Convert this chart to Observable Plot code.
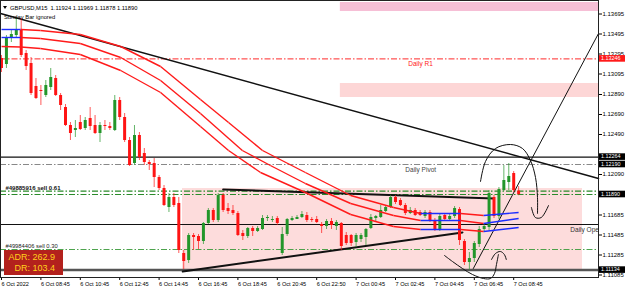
<!DOCTYPE html>
<html><head><meta charset="utf-8">
<script src="https://cdn.jsdelivr.net/npm/d3@7"></script>
<script src="https://cdn.jsdelivr.net/npm/@observablehq/plot@0.6"></script>
<style>body{margin:0;background:#fff;} svg{display:block}</style>
</head><body><div id="chart"></div>
<script>
// ---- candles (GBPUSD M15) ----
const barOpen  = [1.13250,1.13190,1.13460,1.13480,1.13530,1.13300,1.13200,1.12970,1.12930,1.12880,1.12960,1.13050,1.12880,1.12760,1.12580,1.12530,1.12610,1.12550,1.12650,1.12580,1.12500,1.12580,1.12570,1.12530,1.12830,1.12660,1.12430,1.12200,1.12480,1.12300,1.12210,1.12200,1.12060,1.11950,1.11760,1.11860,1.11800,1.11300,1.11230,1.11480,1.11470,1.11420,1.11600,1.11730,1.11630,1.11880,1.11750,1.11730,1.11700,1.11500,1.11470,1.11550,1.11520,1.11540,1.11650,1.11640,1.11650,1.11300,1.11490,1.11630,1.11640,1.11660,1.11680,1.11640,1.11640,1.11590,1.11570,1.11620,1.11570,1.11600,1.11480,1.11480,1.11410,1.11440,1.11460,1.11550,1.11650,1.11660,1.11720,1.11760,1.11860,1.11830,1.11780,1.11700,1.11730,1.11710,1.11670,1.11710,1.11630,1.11540,1.11680,1.11640,1.11670,1.11740,1.11420,1.11210,1.11250,1.11390,1.11540,1.11560,1.11860,1.11670,1.11930,1.12010,1.12100,1.11924];
const barHigh  = [1.13280,1.13480,1.13530,1.13650,1.13650,1.13330,1.13260,1.13050,1.12980,1.13030,1.13150,1.13080,1.12900,1.12790,1.12610,1.12630,1.12680,1.12660,1.12760,1.12680,1.12610,1.12630,1.12610,1.12880,1.12860,1.12700,1.12460,1.12580,1.12510,1.12350,1.12230,1.12250,1.12080,1.11980,1.11900,1.11900,1.11860,1.11330,1.11500,1.11500,1.11490,1.11610,1.11750,1.11750,1.11900,1.11900,1.11800,1.11780,1.11720,1.11530,1.11560,1.11570,1.11570,1.11680,1.11680,1.11670,1.11670,1.11560,1.11650,1.11670,1.11680,1.11720,1.11710,1.11660,1.11670,1.11610,1.11640,1.11650,1.11630,1.11610,1.11510,1.11490,1.11500,1.11500,1.11550,1.11690,1.11680,1.11780,1.11780,1.11880,1.11880,1.11850,1.11800,1.11760,1.11750,1.11730,1.11730,1.11730,1.11650,1.11690,1.11700,1.11690,1.11770,1.11760,1.11440,1.11310,1.11420,1.11570,1.11590,1.11930,1.11880,1.11960,1.12180,1.12200,1.12120,1.11969];
const barLow   = [1.13110,1.13150,1.13410,1.13460,1.13260,1.13130,1.12880,1.12840,1.12780,1.12860,1.12930,1.12870,1.12730,1.12570,1.12430,1.12460,1.12530,1.12530,1.12530,1.12490,1.12410,1.12530,1.12530,1.12520,1.12630,1.12410,1.12170,1.12180,1.12230,1.12180,1.12130,1.11960,1.11930,1.11770,1.11710,1.11760,1.11300,1.11140,1.11200,1.11330,1.11340,1.11390,1.11590,1.11610,1.11610,1.11710,1.11690,1.11680,1.11470,1.11430,1.11450,1.11470,1.11510,1.11530,1.11620,1.11610,1.11580,1.11280,1.11470,1.11620,1.11640,1.11650,1.11610,1.11610,1.11600,1.11500,1.11540,1.11540,1.11530,1.11330,1.11380,1.11370,1.11360,1.11410,1.11380,1.11540,1.11610,1.11650,1.11710,1.11750,1.11790,1.11770,1.11680,1.11690,1.11670,1.11670,1.11650,1.11610,1.11520,1.11520,1.11620,1.11620,1.11650,1.11380,1.11180,1.11134,1.11210,1.11360,1.11510,1.11530,1.11650,1.11640,1.11920,1.11930,1.11910,1.11878];
const barClose = [1.13150,1.13450,1.13490,1.13540,1.13280,1.13170,1.12900,1.12850,1.12920,1.12980,1.13060,1.12880,1.12780,1.12580,1.12500,1.12550,1.12540,1.12630,1.12570,1.12500,1.12580,1.12570,1.12550,1.12830,1.12660,1.12430,1.12180,1.12480,1.12260,1.12210,1.12190,1.12060,1.11950,1.11780,1.11860,1.11780,1.11330,1.11220,1.11480,1.11460,1.11420,1.11600,1.11730,1.11630,1.11880,1.11730,1.11720,1.11700,1.11480,1.11470,1.11550,1.11520,1.11550,1.11650,1.11660,1.11640,1.11600,1.11490,1.11640,1.11650,1.11660,1.11690,1.11630,1.11630,1.11610,1.11570,1.11620,1.11580,1.11610,1.11370,1.11400,1.11400,1.11480,1.11480,1.11540,1.11660,1.11670,1.11730,1.11760,1.11860,1.11810,1.11780,1.11700,1.11730,1.11680,1.11680,1.11710,1.11630,1.11540,1.11670,1.11640,1.11670,1.11750,1.11430,1.11210,1.11250,1.11400,1.11540,1.11570,1.11900,1.11670,1.11940,1.12030,1.12070,1.11930,1.11890];

// ---- axes (visible price labels; 1.12290 and 1.11890 sit under the level boxes) ----
const xTickBars = [0,8,16,24,32,40,48,56,64,72,80,88,96,104];
const xTickLabels = ["6 Oct 2022","6 Oct 08:45","6 Oct 10:45","6 Oct 12:45","6 Oct 14:45","6 Oct 16:45","6 Oct 18:45","6 Oct 20:45","6 Oct 22:50","7 Oct 00:45","7 Oct 02:45","7 Oct 04:45","7 Oct 06:45","7 Oct 08:45"];
const yTickLabels = ["1.13695","1.13495","1.13295","1.13095","1.12890","1.12690","1.12490","1.12090","1.11685","1.11485","1.11285","1.11085"];

// ---- moving-average envelope ----
const maBars   = [0,3.9,7.9,16,24.2,32.3,40.4,46.1,53,61.7,70.9,79.6,85.1,93.2,97.9,105];
const maMidBars= [0,3.9,7.9,16,24.2,32.3,40.4,48.9,54.6,61.7,70.9,79.6,85.1,93.2,97.9,105];
const maBotBars= [0,3.9,7.9,16,24.2,32.3,40.4,46.1,52.6,61.7,70.9,79.6,85.1,93.2,97.9,105];
const maUpper  = [1.13540,1.13540,1.13530,1.13490,1.13370,1.13170,1.12840,1.12610,1.12330,1.12110,1.11880,1.11760,1.11700,1.11700,1.11680,1.11710];
const maMiddle = [1.13460,1.13460,1.13450,1.13400,1.13260,1.13030,1.12700,1.12330,1.12180,1.12000,1.11800,1.11680,1.11630,1.11630,1.11600,1.11650];
const maLower  = [1.13370,1.13365,1.13350,1.13290,1.13130,1.12910,1.12570,1.12330,1.12110,1.11910,1.11690,1.11570,1.11540,1.11540,1.11520,1.11560];

// ---- levels ----
const dailyR1 = 1.13246;
const levelBlack = 1.12264;
const dailyPivot = 1.12190;
const orderSell061 = [1.11923, 1.11890];
const dailyOpen = 1.11590;
const orderSell030 = 1.11340;
const lowLevel = 1.11134;

// ---- zones ----
const zoneStart  = [68.8, 68.8, 36.75];
const zoneEnd    = [121.22, 121.22, 117.97];
const zoneTop    = [1.13810, 1.13000, 1.11950];
const zoneBottom = [1.13720, 1.12860, 1.11130];

// ---- trend lines (bar, price) ----
const longTrendBars = [-0.2, 121.22];
const longTrendPrices = [1.13700, 1.12050];
const rangeTopBars = [45, 100];
const rangeTopPrices = [1.11940, 1.11850];
const rangeLowBars = [36.8, 93.6];
const rangeLowPrices = [1.11120, 1.11510];
const riseBars = [95.8, 121.22];
const risePrices = [1.11150, 1.13500];

// ---- hand drawn arrows (bar, price) ----
const arc1Bars = [97.26,98.27,100.3,103.35,105.79,107.41,108.43,108.83,108.83];
const arc1Prices = [1.12020,1.12220,1.12350,1.12390,1.12350,1.12230,1.12060,1.11860,1.11700];
const hook1Bars = [107.6,108.4,109.6,111.07];
const hook1Prices = [1.11760,1.11660,1.11660,1.11780];
const arc2Bars = [89.95,91.57,93.6,95.63,97.87,99.29,100.1,100.5,100.9];
const arc2Prices = [1.11280,1.11220,1.11150,1.11090,1.11050,1.11050,1.11100,1.11190,1.11290];
const head2Bars = [99.5,100.3,101.3,102.1,102.5];
const head2Prices = [1.11240,1.11300,1.11320,1.11290,1.11240];

// ---- info ----
const headerText = "GBPUSD,M15  1.11924 1.11969 1.11878 1.11890";
const adrText = ["ADR: 262.9", "DR: 103.4"];

// build tables
const bars = barOpen.map((o,i)=>({i, open:o, high:barHigh[i], low:barLow[i], close:barClose[i]}));
const bull = "#23962a", bear = "#ff1414";
function segs(bx, vals){
  const out=[]; for(let k=0;k<vals.length-1;k++) out.push({x1:bx[k],x2:bx[k+1],y1:vals[k],y2:vals[k+1],up:vals[k+1]>=vals[k]}); return out;
}
const maSegs = [...segs(maBars,maUpper), ...segs(maMidBars,maMiddle), ...segs(maBotBars,maLower)];
const pts = (bx,py)=>bx.map((b,k)=>({x:b,y:py[k]}));
const zones = zoneStart.map((s,k)=>({x1:s,x2:zoneEnd[k],y1:zoneBottom[k],y2:zoneTop[k],k}));
const zoneFill = ["#f6bfd6","#fdd6d6","#fddcdc"];
const dashDot = "6,2,1.5,2";
const FONT = "'Liberation Sans', Arial, sans-serif";

const plot = Plot.plot({
  width:625, height:295,
  marginLeft:0, marginRight:27, marginTop:0, marginBottom:18,
  style:{fontFamily:FONT, fontSize:"6px", background:"#fff", color:"#000"},
  x:{domain:[-0.203,121.218]},
  y:{domain:[1.11060,1.13830]},
  marks:[
    Plot.rect(zones,{x1:"x1",x2:"x2",y1:"y1",y2:"y2",fill:d=>zoneFill[d.k]}),
    Plot.ruleY([dailyR1],{stroke:"#ff2a2a",strokeDasharray:dashDot,strokeWidth:1}),
    Plot.ruleY([levelBlack],{stroke:"#111",strokeWidth:1.2}),
    Plot.ruleY([dailyPivot],{stroke:"#888",strokeDasharray:dashDot,strokeWidth:1.2}),
    Plot.ruleY(orderSell061,{stroke:"#2a8a2a",strokeDasharray:dashDot,strokeWidth:1.2}),
    Plot.ruleY([dailyOpen],{stroke:"#111",strokeWidth:1.2}),
    Plot.ruleY([orderSell030],{stroke:"#3a9a3a",strokeDasharray:dashDot,strokeWidth:0.9}),
    Plot.ruleY([lowLevel],{stroke:"#555",strokeWidth:2.5}),
    Plot.line(pts(longTrendBars,longTrendPrices),{x:"x",y:"y",stroke:"#111",strokeWidth:1.5}),
    Plot.line(pts(rangeTopBars,rangeTopPrices),{x:"x",y:"y",stroke:"#111",strokeWidth:2}),
    Plot.line(pts(rangeLowBars,rangeLowPrices),{x:"x",y:"y",stroke:"#111",strokeWidth:2}),
    Plot.line(pts(riseBars,risePrices),{x:"x",y:"y",stroke:"#111",strokeWidth:1,clip:true}),
    Plot.ruleX(bars,{x:"i",y1:"low",y2:"high",stroke:d=>d.close>=d.open?bull:bear,strokeWidth:1,strokeOpacity:0.7}),
    Plot.ruleX(bars,{x:"i",y1:"open",y2:d=>Math.abs(d.close-d.open)<0.00008?d.open-0.0001:d.close,stroke:d=>d.close>=d.open?bull:bear,strokeWidth:3}),
    Plot.link(maSegs,{x1:"x1",x2:"x2",y1:"y1",y2:"y2",stroke:d=>d.up?"#1d2dff":"#ff1a1a",strokeWidth:1.4}),
    Plot.line(pts(arc1Bars,arc1Prices),{x:"x",y:"y",curve:"catmull-rom",stroke:"#111",strokeWidth:1}),
    Plot.line(pts(hook1Bars,hook1Prices),{x:"x",y:"y",curve:"catmull-rom",stroke:"#111",strokeWidth:1}),
    Plot.line(pts(arc2Bars,arc2Prices),{x:"x",y:"y",curve:"catmull-rom",stroke:"#111",strokeWidth:1}),
    Plot.line(pts(head2Bars,head2Prices),{x:"x",y:"y",curve:"catmull-rom",stroke:"#111",strokeWidth:1}),
    Plot.text(["Daily R1"],{x:82.6,y:dailyR1,dy:5,text:d=>d,textAnchor:"start",fill:"#ff2020",fontSize:6.5}),
    Plot.text(["Daily Pivot"],{x:82.0,y:dailyPivot,dy:5,text:d=>d,textAnchor:"start",fill:"#444",fontSize:6.5}),
    Plot.text(["Daily Open"],{x:115.5,y:dailyOpen,dy:5,text:d=>d,textAnchor:"start",fill:"#333",fontSize:6.5,clip:true}),
    Plot.text([orderSell061[0]],{x:0.8,y:d=>d,dy:-3.2,text:()=>"#49885916 sell 0.61",textAnchor:"start",fill:"#111",fontSize:6,fontWeight:"bold"}),
    Plot.text([orderSell030],{x:0.8,y:d=>d,dy:-3.5,text:()=>"#49984406 sell 0.30",textAnchor:"start",fill:"#222",fontSize:5.8}),
    Plot.axisY({anchor:"right",ticks:yTickLabels.map(Number),tickFormat:d=>d.toFixed(5),tickSize:3,tickPadding:1,fontSize:6}),
    Plot.axisX({ticks:xTickBars,tickFormat:d=>xTickLabels[xTickBars.indexOf(d)],textAnchor:"start",tickSize:3,tickPadding:2,fontSize:5.6}),
    Plot.frame({stroke:"#222"})
  ]
});
document.getElementById("chart").appendChild(plot);

const svg = d3.select(plot);
const ys = plot.scale("y");
const boxes = [{p:dailyR1,c:"#ff1a1a"},{p:levelBlack,c:"#000"},{p:dailyPivot,c:"#000"},{p:orderSell061[1],c:"#000"},{p:lowLevel,c:"#000"}];
const g = svg.append("g").attr("text-anchor","start").attr("font-family",FONT);
boxes.forEach(b=>{
  const yy = ys.apply(b.p);
  g.append("rect").attr("x",599).attr("y",yy-3.3).attr("width",26).attr("height",6.6).attr("fill",b.c);
  g.append("text").attr("x",601).attr("y",yy).attr("dy","0.35em").attr("fill","#fff")
     .attr("font-size",5.4).text(b.p.toFixed(5));
});
// header
g.append("path").attr("d","M3,6 L7,6 L5,9 Z").attr("fill","#000");
g.append("text").attr("x",10).attr("y",8).attr("dy","0.35em").attr("font-size",5.8).attr("fill","#000").text(headerText);
g.append("text").attr("x",4).attr("y",17).attr("dy","0.35em").attr("font-size",5.8).attr("fill","#000").text("Sunday Bar ignored");
// ADR box
g.append("rect").attr("x",4).attr("y",250).attr("width",59).attr("height",25).attr("fill","#b3211d");
g.append("text").attr("x",55).attr("y",257).attr("dy","0.35em").attr("text-anchor","end").attr("font-size",9).attr("fill","#ffd21a").text(adrText[0]);
g.append("text").attr("x",55).attr("y",268).attr("dy","0.35em").attr("text-anchor","end").attr("font-size",9).attr("fill","#ffd21a").text(adrText[1]);
</script>
</body></html>
